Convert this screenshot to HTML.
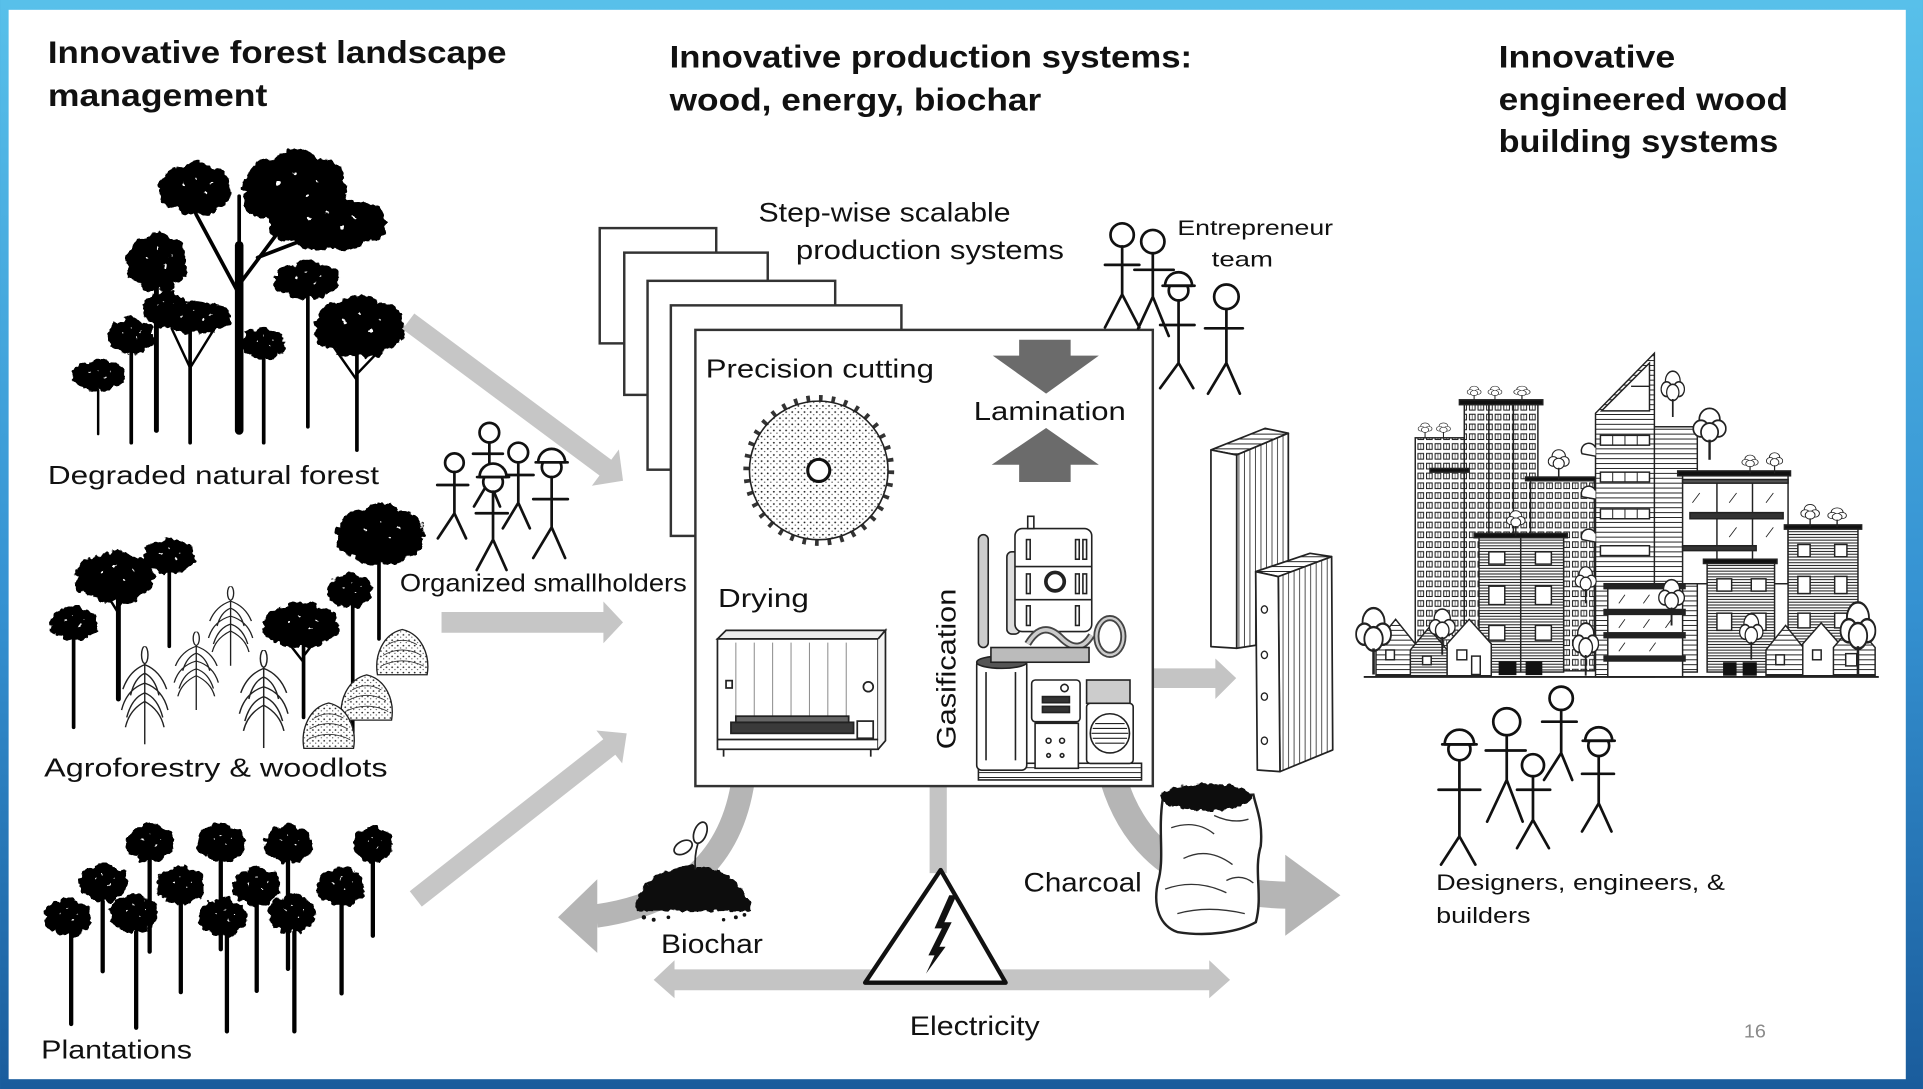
<!DOCTYPE html>
<html><head><meta charset="utf-8">
<style>
html,body{margin:0;padding:0;width:1923px;height:1089px;overflow:hidden;background:#2f86c6;}
svg{display:block}
text{font-family:"Liberation Sans",Arial,sans-serif;fill:#111}
.t{font-weight:bold;font-size:26px}
.sf{fill:none;stroke:#111;stroke-width:2.2;stroke-linecap:round;stroke-linejoin:round}
.hd{fill:#fff;stroke:#111;stroke-width:2.2}
</style></head><body>
<svg width="1923" height="1089" viewBox="0 0 1568 888" xmlns="http://www.w3.org/2000/svg">
<defs>
<linearGradient id="bg" x1="0" y1="0" x2="0" y2="1">
<stop offset="0" stop-color="#58c0ea"/><stop offset="0.55" stop-color="#3592d2"/><stop offset="1" stop-color="#1a5c9c"/>
</linearGradient>
<filter id="rough" x="-5%" y="-5%" width="110%" height="110%"><feTurbulence type="fractalNoise" baseFrequency="0.18" numOctaves="2" seed="4"/><feDisplacementMap in="SourceGraphic" scale="6" xChannelSelector="R" yChannelSelector="G"/></filter>
<symbol id="blob" viewBox="0 0 100 100" preserveAspectRatio="none">
<g fill="#000"><circle cx="28" cy="35" r="22"/><circle cx="52" cy="24" r="22"/><circle cx="75" cy="36" r="22"/><circle cx="22" cy="62" r="20"/><circle cx="50" cy="55" r="26"/><circle cx="78" cy="62" r="20"/><circle cx="40" cy="80" r="16"/><circle cx="64" cy="80" r="16"/><circle cx="10" cy="45" r="9"/><circle cx="90" cy="48" r="9"/></g>
<g fill="#fff"><circle cx="35" cy="42" r="2"/><circle cx="62" cy="56" r="2"/><circle cx="50" cy="30" r="1.5"/><circle cx="72" cy="40" r="1.5"/></g>
</symbol>
<pattern id="stip" width="5" height="5" patternUnits="userSpaceOnUse"><rect width="5" height="5" fill="#fff"/><circle cx="1" cy="1" r="0.75" fill="#222"/><circle cx="3.5" cy="3.2" r="0.55" fill="#444"/></pattern>
<pattern id="hl" width="6" height="2.3" patternUnits="userSpaceOnUse"><rect width="6" height="2.3" fill="#fff"/><line x1="0" y1="1.15" x2="6" y2="1.15" stroke="#222" stroke-width="0.85"/></pattern>
<pattern id="hl2" width="6" height="4" patternUnits="userSpaceOnUse"><rect width="6" height="4" fill="#fff"/><line x1="0" y1="2" x2="6" y2="2" stroke="#222" stroke-width="0.8"/></pattern>
<pattern id="win" width="7" height="8" patternUnits="userSpaceOnUse"><rect width="7" height="8" fill="#fff"/><rect x="1.2" y="1.8" width="4.6" height="4.6" fill="none" stroke="#222" stroke-width="0.85"/><line x1="3.5" y1="1.8" x2="3.5" y2="6.4" stroke="#222" stroke-width="0.5"/></pattern>
<pattern id="vl" width="4.5" height="10" patternUnits="userSpaceOnUse"><rect width="4.5" height="10" fill="#fff"/><line x1="2.2" y1="0" x2="2.2" y2="10" stroke="#333" stroke-width="0.7"/></pattern>
<symbol id="ot" viewBox="0 0 20 30" preserveAspectRatio="none"><g fill="#fff" stroke="#222" stroke-width="1"><circle cx="10" cy="8" r="6"/><circle cx="5" cy="13" r="4.5"/><circle cx="15" cy="13" r="4.5"/><circle cx="10" cy="15" r="5"/></g><line x1="10" y1="19" x2="10" y2="30" stroke="#222" stroke-width="1.4"/></symbol>
<symbol id="corn" viewBox="0 0 40 80" preserveAspectRatio="none"><g fill="none" stroke="#222" stroke-width="1.1"><line x1="20" y1="4" x2="20" y2="80"/><path d="M20 15 Q8 20 3 35M20 15 Q32 20 37 35M20 30 Q6 35 2 52M20 30 Q34 35 38 52M20 45 Q8 52 5 66M20 45 Q32 52 35 66M20 22 Q12 26 9 40M20 22 Q28 26 31 40M20 38 Q10 42 6 58M20 38 Q30 42 34 58"/><ellipse cx="20" cy="7" rx="2.5" ry="7" fill="#fff"/></g></symbol>
<symbol id="bush" viewBox="0 0 50 50" preserveAspectRatio="none"><path d="M3 48 C0 30 8 10 25 6 C42 10 50 30 47 48 Z" fill="url(#stip)" stroke="#222" stroke-width="1.2"/><path d="M8 30 Q25 20 42 30 M6 40 Q25 30 44 40 M12 20 Q25 12 38 20" fill="none" stroke="#333" stroke-width="0.8"/></symbol>
</defs>

<!-- frame -->
<rect x="0" y="0" width="1568" height="888" fill="url(#bg)"/>
<rect x="7" y="8" width="1547" height="872" fill="#fff"/>

<!-- titles -->
<text class="t" x="39" y="51.5" textLength="374" lengthAdjust="spacingAndGlyphs">Innovative forest landscape</text>
<text class="t" x="39" y="86.5" textLength="179" lengthAdjust="spacingAndGlyphs">management</text>
<text class="t" x="546" y="55" textLength="426" lengthAdjust="spacingAndGlyphs">Innovative production systems:</text>
<text class="t" x="546" y="90" textLength="303" lengthAdjust="spacingAndGlyphs">wood, energy, biochar</text>
<text class="t" x="1222" y="55" textLength="144" lengthAdjust="spacingAndGlyphs">Innovative</text>
<text class="t" x="1222" y="89.5" textLength="236" lengthAdjust="spacingAndGlyphs">engineered wood</text>
<text class="t" x="1222" y="124" textLength="228" lengthAdjust="spacingAndGlyphs">building systems</text>

<!-- ===== Degraded forest trees ===== -->
<g stroke="#000" stroke-linecap="round">
<line x1="80" y1="318" x2="80" y2="354" stroke-width="2"/>
<line x1="107" y1="285" x2="107" y2="361" stroke-width="3"/>
<line x1="127.5" y1="230" x2="127.5" y2="351" stroke-width="4"/>
<line x1="195" y1="200" x2="195" y2="351" stroke-width="7"/>
<path d="M195 240 L160 175 M195 232 L245 165 M210 210 L275 185 M160 175 L150 150 M195 232 L195 160" stroke-width="3" fill="none"/>
<line x1="155" y1="268" x2="155" y2="361" stroke-width="3"/>
<path d="M155 300 L140 268 M155 300 L176 266" stroke-width="2" fill="none"/>
<line x1="215" y1="290" x2="215" y2="361" stroke-width="3"/>
<line x1="251" y1="240" x2="251" y2="348" stroke-width="3"/>
<line x1="291" y1="285" x2="291" y2="367" stroke-width="3"/>
<path d="M291 310 L270 280 M291 305 L315 280" stroke-width="2" fill="none"/>
</g>
<g filter="url(#rough)">
<use href="#blob" x="58" y="292" width="44" height="28"/>
<use href="#blob" x="87" y="258" width="39" height="32"/>
<use href="#blob" x="102" y="188" width="51" height="52"/>
<use href="#blob" x="116" y="236" width="37" height="32"/>
<use href="#blob" x="129" y="131" width="60" height="46"/>
<use href="#blob" x="196" y="120" width="88" height="70"/>
<use href="#blob" x="218" y="158" width="98" height="48"/>
<use href="#blob" x="127" y="245" width="62" height="28"/>
<use href="#blob" x="196" y="266" width="37" height="28"/>
<use href="#blob" x="222" y="212" width="55" height="33"/>
<use href="#blob" x="255" y="239" width="75" height="55"/>
</g>

<text x="39" y="394.5" font-size="21" textLength="270" lengthAdjust="spacingAndGlyphs">Degraded natural forest</text>

<!-- ===== Agroforestry ===== -->
<g stroke="#000" stroke-linecap="round">
<line x1="60" y1="515" x2="60" y2="593" stroke-width="3"/>
<line x1="96.5" y1="485" x2="96.5" y2="570" stroke-width="4"/>
<path d="M96.5 500 L78 470 M96.5 495 L115 468" stroke-width="2" fill="none"/>
<line x1="138" y1="465" x2="138" y2="527" stroke-width="3"/>
<line x1="247.5" y1="525" x2="247.5" y2="585" stroke-width="3"/>
<path d="M247.5 540 L228 515 M247.5 535 L265 512" stroke-width="2" fill="none"/>
<line x1="287.6" y1="494" x2="287.6" y2="600" stroke-width="3"/>
<line x1="309" y1="455" x2="309" y2="521" stroke-width="3"/>
</g>
<g filter="url(#rough)">
<use href="#blob" x="40" y="493" width="40" height="31"/>
<use href="#blob" x="60" y="448" width="67" height="45"/>
<use href="#blob" x="116" y="438" width="44" height="31"/>
<use href="#blob" x="213" y="490" width="64" height="40"/>
<use href="#blob" x="267" y="466" width="37" height="31"/>
<use href="#blob" x="273" y="409" width="73" height="54"/>
</g>
<use href="#corn" x="97" y="527" width="42" height="80"/>
<use href="#corn" x="140" y="515" width="40" height="64"/>
<use href="#corn" x="168" y="478" width="40" height="65"/>
<use href="#corn" x="193" y="530" width="44" height="80"/>
<use href="#bush" x="305" y="508" width="46" height="44"/>
<use href="#bush" x="276" y="545" width="46" height="44"/>
<use href="#bush" x="245" y="568" width="46" height="44"/>

<text x="36" y="633" font-size="21" textLength="280" lengthAdjust="spacingAndGlyphs">Agroforestry &amp; woodlots</text>

<!-- ===== Plantations ===== -->
<g stroke="#000" stroke-width="3.5" stroke-linecap="round">
<line x1="122" y1="700" x2="122" y2="776"/>
<line x1="180" y1="700" x2="180" y2="774"/>
<line x1="234.8" y1="700" x2="234.8" y2="790"/>
<line x1="304" y1="700" x2="304" y2="763"/>
<line x1="83.7" y1="735" x2="83.7" y2="792"/>
<line x1="147.4" y1="735" x2="147.4" y2="809"/>
<line x1="209.3" y1="735" x2="209.3" y2="808"/>
<line x1="278.5" y1="735" x2="278.5" y2="810"/>
<line x1="58" y1="760" x2="58" y2="835"/>
<line x1="111" y1="760" x2="111" y2="838"/>
<line x1="185" y1="760" x2="185" y2="841"/>
<line x1="240" y1="760" x2="240" y2="841"/>
</g>
<g filter="url(#rough)">
<use href="#blob" x="102" y="670" width="40" height="34"/>
<use href="#blob" x="160" y="670" width="40" height="34"/>
<use href="#blob" x="215" y="671" width="40" height="34"/>
<use href="#blob" x="288" y="673" width="32" height="32"/>
<use href="#blob" x="64" y="703" width="40" height="34"/>
<use href="#blob" x="127" y="705" width="40" height="34"/>
<use href="#blob" x="189" y="706" width="40" height="34"/>
<use href="#blob" x="258" y="706" width="40" height="34"/>
<use href="#blob" x="35" y="731" width="40" height="34"/>
<use href="#blob" x="89" y="728" width="40" height="34"/>
<use href="#blob" x="162" y="731" width="40" height="34"/>
<use href="#blob" x="218" y="728" width="40" height="34"/>
</g>

<text x="33.5" y="863" font-size="21" textLength="123" lengthAdjust="spacingAndGlyphs">Plantations</text>

<!-- ===== input arrows ===== -->
<g fill="#c6c6c6">
<polygon points="328.2,268.4 488.8,387.7 482.6,396.1 508,392 504.6,366.5 498.4,374.9 337.8,255.6"/>
<polygon points="360,499 492,499 492,490.5 508,507.5 492,524.5 492,516 360,516"/>
<polygon points="343.9,739.3 501.7,615.4 507.3,622.5 511,598 486.3,595.7 491.9,602.8 334.1,726.7"/>
</g>

<!-- smallholders -->
<g class="sf">
<circle class="hd" cx="370.5" cy="377.3" r="7.6"/>
<path d="M370.5 385 V418.6 M356.5 395.5 H381.7 M357 439 L370.5 418.6 L380 439"/>
<circle class="hd" cx="399" cy="352.8" r="8"/>
<path d="M399 361 V392 M385.7 370 H410 M386.5 413 L399 392 L407.7 413"/>
<circle class="hd" cx="422.6" cy="369" r="8"/>
<path d="M422.6 377 V410 M411.8 387.3 H435 M410 430.8 L422.6 410 L432 430.8"/>
<circle class="hd" cx="402" cy="393" r="8"/>
<path d="M391 389 A11 11 0 0 1 413 389 Z" fill="#fff"/><line x1="389" y1="389" x2="415" y2="389"/>
<path d="M402 401 V440 M388 418.5 H414 M388.7 464.8 L402 440 L413 464.8"/>
<circle class="hd" cx="449.8" cy="381" r="8"/>
<path d="M438.8 377 A11 11 0 0 1 460.8 377 Z" fill="#fff"/><line x1="436.8" y1="377" x2="462.8" y2="377"/>
<path d="M449.8 389 V430 M434.8 407 H463 M434.8 455 L449.8 430 L460.8 455"/>
</g>
<text x="326" y="482.5" font-size="20" textLength="234" lengthAdjust="spacingAndGlyphs">Organized smallholders</text>

<!-- ===== bottom bands / arrows ===== -->
<g fill="none" stroke="#b5b5b5">
<path d="M606 636 Q592 732 486 747" stroke-width="19"/>
<path d="M908 636 Q936 728 1050 730" stroke-width="22"/>
</g>
<polygon points="455,748 487,717 487,777" fill="#b5b5b5"/>
<polygon points="1093,730 1048,697 1048,763" fill="#b5b5b5"/>
<rect x="758" y="636" width="14" height="76" fill="#c4c4c4"/>
<polygon points="533,799 550,783 550,790.5 986,790.5 986,783 1003,799 986,814 986,807.5 550,807.5 550,814" fill="#c4c4c4"/>
<polygon points="940,545 991,545 991,537 1008,553 991,570 991,561 940,561" fill="#c4c4c4"/>

<!-- stacked boxes -->
<g fill="#fff" stroke="#333" stroke-width="2">
<rect x="489" y="186" width="95" height="94"/>
<rect x="509" y="206" width="117" height="116"/>
<rect x="528" y="229" width="153" height="154"/>
<rect x="547" y="249" width="188" height="188"/>
<rect x="567" y="269" width="373" height="372"/>
</g>

<text x="618.5" y="180.6" font-size="22" textLength="205.5" lengthAdjust="spacingAndGlyphs">Step-wise scalable</text>
<text x="649" y="211" font-size="22" textLength="218.6" lengthAdjust="spacingAndGlyphs">production systems</text>

<!-- entrepreneur team -->
<g class="sf">
<circle class="hd" cx="915" cy="191.6" r="9.5"/>
<path d="M915 201 V240 M901 216 H929 M901 267 L915 240 L929 267"/>
<circle class="hd" cx="940" cy="197" r="9.5"/>
<path d="M940 206.5 V242 M925 220 H957 M928 268 L940 242 L953 274"/>
<circle class="hd" cx="961" cy="237" r="8"/>
<path d="M950 233 A11 11 0 0 1 972 233 Z" fill="#fff"/><line x1="948" y1="233" x2="974" y2="233"/>
<path d="M961 245 V296 M946 265 H974 M946 316.5 L961 296 L973 316.5"/>
<circle class="hd" cx="1000" cy="242" r="10"/>
<path d="M1000 252 V296 M982.6 267.7 H1013.4 M985 321 L1000 296 L1011 321"/>
</g>
<text x="960" y="191.6" font-size="17.5" textLength="127" lengthAdjust="spacingAndGlyphs">Entrepreneur</text>
<text x="988" y="217.5" font-size="17.5" textLength="50" lengthAdjust="spacingAndGlyphs">team</text>

<!-- main box content -->
<text x="575.5" y="308" font-size="21" textLength="186" lengthAdjust="spacingAndGlyphs">Precision cutting</text>
<text x="794" y="342.5" font-size="21" textLength="124" lengthAdjust="spacingAndGlyphs">Lamination</text>
<text x="585.5" y="495" font-size="21" textLength="74" lengthAdjust="spacingAndGlyphs">Drying</text>
<text transform="translate(779,611) rotate(-90)" font-size="22" textLength="131" lengthAdjust="spacingAndGlyphs">Gasification</text>

<polygon points="831,277 873,277 873,290 896,290 853,321 809.5,290 831,290" fill="#6b6b6b"/>
<polygon points="853,349 896,379 873,379 873,393 831,393 831,379 808.6,379" fill="#6b6b6b"/>

<!-- saw -->
<circle cx="667.6" cy="383.6" r="59" fill="none" stroke="#333" stroke-width="5" stroke-dasharray="3 7.3"/>
<circle cx="667.6" cy="383.6" r="56.5" fill="url(#stip)" stroke="#222" stroke-width="1.3"/>
<circle cx="667.6" cy="383.6" r="9" fill="#fff" stroke="#111" stroke-width="2.5"/>

<!-- drying cabinet -->
<g stroke="#222" stroke-width="1.4" fill="none">
<path d="M585 521 L592 514 L722 514 L716 521 Z" fill="#eee"/>
<rect x="585" y="521" width="131" height="90" fill="#fff"/>
<path d="M716 521 L722 514 L722 604 L716 611" fill="#f4f4f4"/>
<g stroke="#888" stroke-width="0.8"><line x1="600" y1="524" x2="600" y2="585"/><line x1="630" y1="524" x2="630" y2="585"/><line x1="660" y1="524" x2="660" y2="585"/><line x1="690" y1="524" x2="690" y2="585"/><line x1="615" y1="524" x2="615" y2="585"/><line x1="645" y1="524" x2="645" y2="585"/><line x1="675" y1="524" x2="675" y2="585"/></g>
<rect x="596" y="589" width="100" height="9" fill="#3a3a3a"/>
<rect x="600" y="584" width="92" height="5" fill="#666"/>
<line x1="585" y1="603" x2="716" y2="603"/>
<rect x="699" y="588" width="13" height="14" fill="#fff"/>
<circle cx="708" cy="560" r="4"/>
<rect x="592" y="555" width="5" height="6"/>
<line x1="590" y1="611" x2="590" y2="617"/><line x1="710" y1="611" x2="710" y2="617"/>
</g>

<!-- gasifier -->
<g stroke="#222" stroke-width="1.3" fill="#fff">
<rect x="797.8" y="622.4" width="133" height="13.6" fill="url(#hl2)"/>
<rect x="797.8" y="436" width="8" height="92" rx="4" fill="#ccc"/>
<rect x="821" y="450" width="10.7" height="67" rx="4" fill="#ddd"/>
<rect x="827.6" y="431" width="62.6" height="84" rx="6"/>
<line x1="828" y1="462" x2="890" y2="462"/><line x1="828" y1="489" x2="890" y2="489"/>
<rect x="837" y="440" width="3" height="16"/><rect x="877" y="440" width="3" height="16"/><rect x="883" y="440" width="3" height="16"/>
<rect x="837" y="468" width="3" height="16"/><rect x="877" y="468" width="3" height="16"/><rect x="883" y="468" width="3" height="16"/>
<rect x="837" y="494" width="3" height="16"/><rect x="877" y="494" width="3" height="16"/>
<circle cx="860.3" cy="474.3" r="7.5" stroke-width="3"/>
<rect x="838" y="421" width="5" height="10"/>
<path d="M838 525 Q850 505 865 520 Q880 535 890 518" fill="none" stroke-width="6" stroke="#444"/>
<path d="M838 525 Q850 505 865 520 Q880 535 890 518" fill="none" stroke-width="3" stroke="#ccc"/>
<ellipse cx="905" cy="519" rx="11" ry="15" fill="none" stroke-width="5" stroke="#444"/>
<ellipse cx="905" cy="519" rx="11" ry="15" fill="none" stroke-width="2" stroke="#ccc"/>
<rect x="796.4" y="538" width="40.8" height="90" rx="4"/>
<ellipse cx="816.8" cy="540" rx="20.4" ry="5" fill="#555"/>
<line x1="804" y1="548" x2="804" y2="620"/><line x1="828" y1="548" x2="828" y2="620"/>
<rect x="808" y="528" width="80" height="12" fill="#bbb"/>
<rect x="841.2" y="554.5" width="39.5" height="34" rx="3"/>
<rect x="850" y="568" width="22" height="5" fill="#333"/><rect x="850" y="576" width="22" height="5" fill="#333"/>
<circle cx="868" cy="561" r="3"/>
<rect x="844" y="589.8" width="35.3" height="36.7"/>
<circle cx="855" cy="604" r="2"/><circle cx="866" cy="604" r="2"/><circle cx="855" cy="616" r="1.5"/><circle cx="866" cy="616" r="1.5"/>
<rect x="886" y="554.5" width="35.4" height="19" fill="#ccc"/>
<rect x="886" y="573.5" width="38" height="49" rx="3"/>
<circle cx="905" cy="598" r="16"/>
<g stroke-width="0.9"><line x1="893" y1="590" x2="917" y2="590"/><line x1="891" y1="594" x2="919" y2="594"/><line x1="890" y1="598" x2="920" y2="598"/><line x1="891" y1="602" x2="919" y2="602"/><line x1="893" y1="606" x2="917" y2="606"/></g>
</g>

<!-- wood panels -->
<g stroke="#222" stroke-width="1.4" stroke-linejoin="round">
<polygon points="987.4,366.9 1031.5,349.3 1050.5,353.3 1008.4,371" fill="url(#hl2)"/>
<polygon points="1008.4,371 1050.5,353.3 1050.5,522 1008.4,528.6" fill="url(#vl)"/>
<polygon points="987.4,366.9 1008.4,371 1008.4,528.6 987.4,527.3" fill="#fff"/>
<polygon points="1023.9,466.1 1068.2,451.2 1085.8,453.9 1042.3,470.2" fill="url(#hl2)"/>
<polygon points="1042.3,470.2 1085.8,453.9 1086.7,611.5 1043.7,629.2" fill="url(#vl)"/>
<polygon points="1023.9,466.1 1042.3,470.2 1043.7,629.2 1025.2,627.9" fill="#fff"/>
<g fill="#fff" stroke-width="1.1"><ellipse cx="1031" cy="497" rx="2.5" ry="3"/><ellipse cx="1031" cy="534" rx="2.5" ry="3"/><ellipse cx="1031" cy="568" rx="2.5" ry="3"/><ellipse cx="1031" cy="604" rx="2.5" ry="3"/></g>
</g>

<!-- biochar pile -->
<path d="M518 743 C518 722 540 706 565 706 C590 706 612 724 612 743 Z" fill="#111" filter="url(#rough)"/>
<g fill="#111"><circle cx="525" cy="748" r="1.8"/><circle cx="533" cy="750" r="1.6"/><circle cx="545" cy="748" r="1.5"/><circle cx="600" cy="748" r="1.6"/><circle cx="607" cy="746" r="1.5"/><circle cx="590" cy="750" r="1.4"/></g>
<g stroke="#222" stroke-width="1.4" fill="#fff">
<path d="M567 709 Q566 698 569 688" fill="none"/>
<ellipse cx="557" cy="691" rx="8" ry="5" transform="rotate(-30 557 691)"/>
<ellipse cx="571" cy="679" rx="5" ry="9" transform="rotate(20 571 679)"/>
</g>
<text x="539" y="777" font-size="22" textLength="83" lengthAdjust="spacingAndGlyphs">Biochar</text>

<!-- charcoal bag -->
<path d="M948 652 C944 680 950 700 944 720 C940 740 946 755 960 760 C985 764 1010 760 1024 752 C1030 730 1022 710 1028 690 C1030 670 1024 658 1022 648 Z" fill="#fff" stroke="#222" stroke-width="2"/>
<g fill="none" stroke="#333" stroke-width="1.1"><path d="M955 675 Q975 668 990 680 M965 700 Q985 690 1005 705 M950 725 Q975 716 1000 728 M960 745 Q985 738 1015 745 M990 665 Q1005 672 1018 668 M1000 718 Q1012 712 1022 720"/></g>
<ellipse cx="984" cy="650" rx="37" ry="11" fill="#111" filter="url(#rough)"/>
<text x="834.6" y="727" font-size="22" textLength="96.4" lengthAdjust="spacingAndGlyphs">Charcoal</text>

<!-- electricity triangle -->
<polygon points="767,709.4 705.4,801.3 820,801.3" fill="#fff" stroke="#111" stroke-width="3.5" stroke-linejoin="round"/>
<polygon points="774,730 780,730 770,752 776,752 766,772 771,772 755,794 762,779 757,779 768,757 762,757" fill="#111"/>
<text x="741.8" y="844" font-size="22" textLength="106" lengthAdjust="spacingAndGlyphs">Electricity</text>

<!-- ===== City ===== -->
<g stroke="#222" stroke-width="1.2">
<rect x="1154" y="357" width="42" height="190" fill="url(#win)"/>
<rect x="1194" y="329" width="60" height="200" fill="url(#win)"/>
<line x1="1214" y1="329" x2="1214" y2="529"/><line x1="1234" y1="329" x2="1234" y2="529"/>
<rect x="1190" y="326" width="68" height="4" fill="#111"/>
<rect x="1166" y="382" width="32" height="3" fill="#111"/>
<rect x="1248" y="392" width="52" height="155" fill="url(#win)"/>
<rect x="1244" y="389" width="58" height="3" fill="#111"/>
<rect x="1348" y="348" width="36" height="200" fill="url(#hl2)"/>
<rect x="1372" y="386" width="86" height="90" fill="#fff"/>
<rect x="1368" y="384" width="92" height="4" fill="#111"/>
<rect x="1372" y="391" width="86" height="3" fill="#555"/>
<line x1="1400" y1="394" x2="1400" y2="476"/><line x1="1429" y1="394" x2="1429" y2="476"/>
<rect x="1378" y="418" width="76" height="5" fill="#333"/>
<rect x="1372" y="445" width="60" height="4" fill="#333"/>
<g stroke-width="0.7"><line x1="1380" y1="410" x2="1386" y2="402"/><line x1="1410" y1="410" x2="1416" y2="402"/><line x1="1440" y1="410" x2="1446" y2="402"/><line x1="1410" y1="438" x2="1416" y2="430"/><line x1="1440" y1="438" x2="1446" y2="430"/></g>
<rect x="1458" y="431" width="57" height="116" fill="url(#hl)"/>
<rect x="1455" y="428" width="63" height="3.5" fill="#111"/>
<g fill="#fff"><rect x="1466" y="444" width="10" height="10"/><rect x="1496" y="444" width="10" height="10"/><rect x="1466" y="470" width="10" height="14"/><rect x="1496" y="470" width="10" height="14"/><rect x="1466" y="500" width="10" height="12"/><rect x="1496" y="500" width="10" height="12"/></g>
<polygon points="1301,337 1349,288 1349,552 1301,552" fill="url(#hl2)"/>
<path d="M1306 335 L1345 296 V335 Z" fill="#fff"/>
<line x1="1330" y1="315" x2="1345" y2="315"/>
<g fill="#fff"><rect x="1305" y="355" width="40" height="8"/><rect x="1305" y="385" width="40" height="8"/><rect x="1305" y="415" width="40" height="8"/><rect x="1305" y="445" width="40" height="8"/></g>
<g stroke-width="0.8"><line x1="1315" y1="355" x2="1315" y2="363"/><line x1="1325" y1="355" x2="1325" y2="363"/><line x1="1335" y1="355" x2="1335" y2="363"/><line x1="1315" y1="385" x2="1315" y2="393"/><line x1="1325" y1="385" x2="1325" y2="393"/><line x1="1335" y1="385" x2="1335" y2="393"/><line x1="1315" y1="415" x2="1315" y2="423"/><line x1="1325" y1="415" x2="1325" y2="423"/><line x1="1335" y1="415" x2="1335" y2="423"/></g>
<path d="M1301 365 A6 6 0 0 0 1290 370 L1301 372 M1301 400 A6 6 0 0 0 1290 405 L1301 407 M1301 435 A6 6 0 0 0 1290 440 L1301 442" fill="#fff"/>
<rect x="1206" y="438" width="69" height="110" fill="url(#hl)"/>
<rect x="1202" y="435" width="76" height="3.5" fill="#111"/>
<line x1="1240" y1="438" x2="1240" y2="548"/>
<g fill="#fff"><rect x="1214" y="450" width="13" height="10"/><rect x="1252" y="450" width="13" height="10"/><rect x="1214" y="478" width="13" height="15"/><rect x="1252" y="478" width="13" height="15"/><rect x="1214" y="510" width="13" height="12"/><rect x="1252" y="510" width="13" height="12"/></g>
<rect x="1392" y="459" width="55" height="89" fill="url(#hl)"/>
<rect x="1389" y="456" width="60" height="3.5" fill="#111"/>
<g fill="#fff"><rect x="1400" y="472" width="12" height="10"/><rect x="1428" y="472" width="12" height="10"/><rect x="1400" y="500" width="12" height="14"/><rect x="1428" y="500" width="12" height="14"/></g>
<rect x="1311" y="478" width="61" height="74" fill="#fff"/>
<rect x="1308" y="476" width="66" height="4" fill="#222"/>
<rect x="1308" y="497" width="66" height="4" fill="#222"/>
<rect x="1308" y="516" width="66" height="4" fill="#222"/>
<rect x="1308" y="535" width="66" height="4" fill="#222"/>
<g stroke-width="0.7"><line x1="1320" y1="492" x2="1325" y2="485"/><line x1="1340" y1="492" x2="1345" y2="485"/><line x1="1358" y1="492" x2="1363" y2="485"/><line x1="1320" y1="512" x2="1325" y2="505"/><line x1="1340" y1="512" x2="1345" y2="505"/><line x1="1358" y1="512" x2="1363" y2="505"/><line x1="1320" y1="531" x2="1325" y2="524"/><line x1="1345" y1="531" x2="1350" y2="524"/></g>
<!-- houses left -->
<polygon points="1122,525 1138,505 1154,525 1154,551 1122,551" fill="url(#hl2)"/>
<polygon points="1150,530 1165,512 1180,530 1180,551 1150,551" fill="url(#hl)"/>
<polygon points="1180,525 1198,505 1216,525 1216,551 1180,551" fill="#fff"/>
<g fill="#fff"><rect x="1130" y="530" width="7" height="8"/><rect x="1160" y="535" width="7" height="7"/><rect x="1188" y="530" width="8" height="8"/><rect x="1200" y="535" width="7" height="15"/></g>
<!-- houses right -->
<polygon points="1440,530 1456,510 1472,530 1472,551 1440,551" fill="url(#hl2)"/>
<polygon points="1470,525 1485,508 1500,525 1500,551 1470,551" fill="#fff"/>
<polygon points="1495,528 1512,508 1529,528 1529,551 1495,551" fill="url(#hl2)"/>
<g fill="#fff"><rect x="1448" y="534" width="7" height="8"/><rect x="1478" y="530" width="7" height="8"/><rect x="1505" y="533" width="9" height="10"/></g>
<g fill="#111" stroke="none"><rect x="1222" y="539.5" width="14.5" height="11"/><rect x="1244" y="539.5" width="13.6" height="11"/><rect x="1405" y="540" width="11" height="11"/><rect x="1421" y="540" width="11.5" height="11"/></g>
<line x1="1112" y1="552" x2="1532" y2="552" stroke-width="1.5"/>
</g>
<use href="#ot" x="1105" y="492" width="30" height="58"/>
<use href="#ot" x="1500" y="487" width="30" height="63"/>
<use href="#ot" x="1165" y="494" width="22" height="40"/>
<use href="#ot" x="1282" y="505" width="22" height="46"/>
<use href="#ot" x="1284" y="460" width="18" height="32"/>
<use href="#ot" x="1352" y="470" width="22" height="40"/>
<use href="#ot" x="1418" y="498" width="20" height="40"/>
<use href="#ot" x="1354" y="300" width="20" height="40"/>
<use href="#ot" x="1380" y="330" width="28" height="45"/>
<use href="#ot" x="1262" y="365" width="18" height="26"/>
<use href="#ot" x="1196" y="314" width="12" height="13"/>
<use href="#ot" x="1213" y="314" width="12" height="13"/>
<use href="#ot" x="1234" y="314" width="14" height="13"/>
<use href="#ot" x="1156" y="344" width="12" height="13"/>
<use href="#ot" x="1171" y="344" width="12" height="13"/>
<use href="#ot" x="1420" y="370" width="14" height="16"/>
<use href="#ot" x="1440" y="368" width="14" height="18"/>
<use href="#ot" x="1468" y="410" width="16" height="20"/>
<use href="#ot" x="1490" y="413" width="16" height="17"/>
<use href="#ot" x="1228" y="415" width="16" height="22"/>

<!-- designers -->
<g class="sf">
<circle class="hd" cx="1190" cy="611" r="9"/>
<path d="M1178 607 A12 12 0 0 1 1202 607 Z" fill="#fff"/><line x1="1176" y1="607" x2="1204" y2="607"/>
<path d="M1190 620 V682 M1173 644 H1207 M1175 705 L1190 682 L1203 705"/>
<circle class="hd" cx="1228.6" cy="588.5" r="11"/>
<path d="M1228.6 599.5 V636 M1211.5 612 H1244 M1212.6 670 L1228.6 636 L1241.6 670"/>
<circle class="hd" cx="1250" cy="624" r="9"/>
<path d="M1250 633 V668.6 M1237 644 H1264 M1237 691.6 L1250 668.6 L1263 691.6"/>
<circle class="hd" cx="1273" cy="569.4" r="9.5"/>
<path d="M1273 579 V614 M1257.5 588.5 H1285.6 M1259 636 L1273 614 L1282 636"/>
<circle class="hd" cx="1303.6" cy="608" r="8.5"/>
<path d="M1292.6 604 A11 11 0 0 1 1314.6 604 Z" fill="#fff"/><line x1="1290.6" y1="604" x2="1316.6" y2="604"/>
<path d="M1303.6 616.5 V655 M1290 631 H1316 M1290 678 L1303.6 655 L1314 678"/>
</g>
<text x="1171" y="725.7" font-size="18" textLength="235.5" lengthAdjust="spacingAndGlyphs">Designers, engineers, &amp;</text>
<text x="1171" y="752.8" font-size="18" textLength="77" lengthAdjust="spacingAndGlyphs">builders</text>

<text x="1422" y="846" font-size="15" style="fill:#8a8a8a" textLength="18" lengthAdjust="spacingAndGlyphs">16</text>
</svg>
</body></html>
